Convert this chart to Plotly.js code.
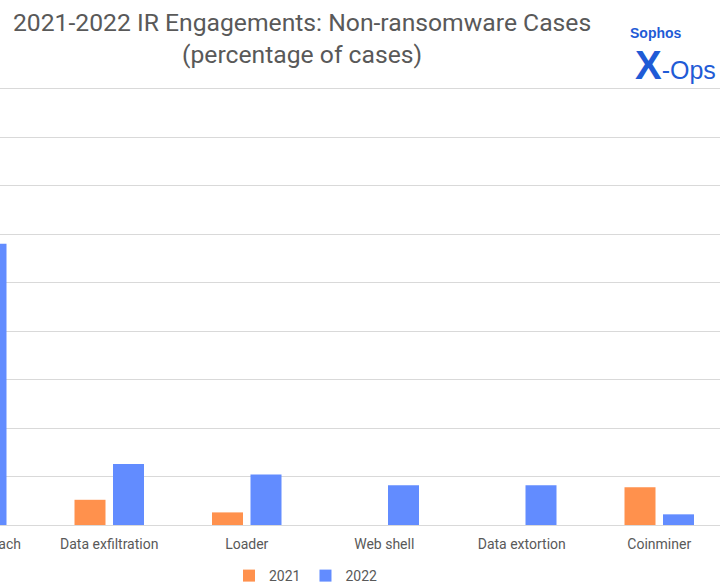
<!DOCTYPE html>
<html>
<head>
<meta charset="utf-8">
<script src="https://cdn.plot.ly/plotly-3.0.1.min.js"></script>
<style>
  html, body { margin: 0; padding: 0; background: #fff; overflow: hidden; }
  #frame { position: absolute; left: 0; top: 0; width: 720px; height: 584px; overflow: hidden; }
  #chart { position: absolute; left: -150px; top: 0; width: 878px; height: 620px; }
</style>
</head>
<body>
<div id="frame"><div id="chart"></div></div>
<script>
const categories = ["Network breach", "Data exfiltration", "Loader", "Web shell", "Data extortion", "Coinminer"];
const values2021 = [16.0, 2.6, 1.3, 0, 0, 3.9];
const values2022 = [29.0, 6.3, 5.2, 4.1, 4.1, 1.1];
const seriesNames = ["2021", "2022"];
const titleText = "2021-2022 IR Engagements: Non-ransomware Cases<br>(percentage of cases)";

const FONT = "Roboto, 'Liberation Sans', sans-serif";
const GRAY = "#595959";
const LOGO_BLUE = "#1F5BD6";

const traces = [
  { type: "bar", name: seriesNames[0], x: categories, y: values2021,
    marker: { color: "#FF914D" }, hoverinfo: "skip" },
  { type: "bar", name: seriesNames[1], x: categories, y: values2022,
    marker: { color: "#628CFF" }, hoverinfo: "skip" }
];

// plot area: visible x from -97 to 728, y from 79 to 525
const PLOT_TOP = 79, PLOT_BOTTOM = 525, PLOT_H = PLOT_BOTTOM - PLOT_TOP;
const px = v => (v + 97) / 825;
const py = v => (PLOT_BOTTOM - v) / PLOT_H;

const layout = {
  width: 878, height: 620,
  margin: { l: 53, r: 0, t: PLOT_TOP, b: 620 - PLOT_BOTTOM },
  paper_bgcolor: "#fff", plot_bgcolor: "#fff",
  barmode: "group", bargap: 0.44, bargroupgap: 0.195,
  font: { family: FONT, color: GRAY, size: 14 },
  xaxis: {
    type: "category", range: [-0.5, 5.5], fixedrange: true,
    showgrid: false, zeroline: false, showline: false, ticks: "",
    ticklabelstandoff: 9,
    tickfont: { family: FONT, size: 14, color: GRAY }
  },
  yaxis: {
    range: [0, 46], tickvals: [0, 5, 10, 15, 20, 25, 30, 35, 40, 45], fixedrange: true,
    showgrid: true, gridcolor: "#D9D9D9", gridwidth: 1,
    zeroline: true, zerolinecolor: "#D9D9D9", zerolinewidth: 1,
    showticklabels: false, ticks: ""
  },
  showlegend: true,
  legend: {
    orientation: "h", x: px(306), xanchor: "center", y: py(576), yanchor: "middle",
    font: { family: FONT, size: 14, color: GRAY },
    itemwidth: 30, traceorder: "normal"
  },
  annotations: [
    { text: titleText, xref: "paper", yref: "paper", x: px(302), y: py(39),
      showarrow: false, align: "center", xanchor: "center", yanchor: "middle",
      font: { family: FONT, size: 24.7, color: GRAY } },
    { text: "<b>Sophos</b>", xref: "paper", yref: "paper", x: px(656), y: py(33),
      showarrow: false, xanchor: "center", yanchor: "middle",
      font: { family: "'Liberation Sans Narrow', 'Liberation Sans', sans-serif", size: 14, color: LOGO_BLUE } },
    { text: "<b><span style='font-size:40px'>X</span></b><span style='font-size:25px'>-Ops</span>",
      xref: "paper", yref: "paper", x: px(675), y: py(65),
      showarrow: false, xanchor: "center", yanchor: "middle",
      font: { family: "'Liberation Sans Narrow', 'Liberation Sans', sans-serif", size: 25, color: LOGO_BLUE } }
  ]
};

Plotly.newPlot("chart", traces, layout, { displayModeBar: false, staticPlot: true });
</script>
</body>
</html>
